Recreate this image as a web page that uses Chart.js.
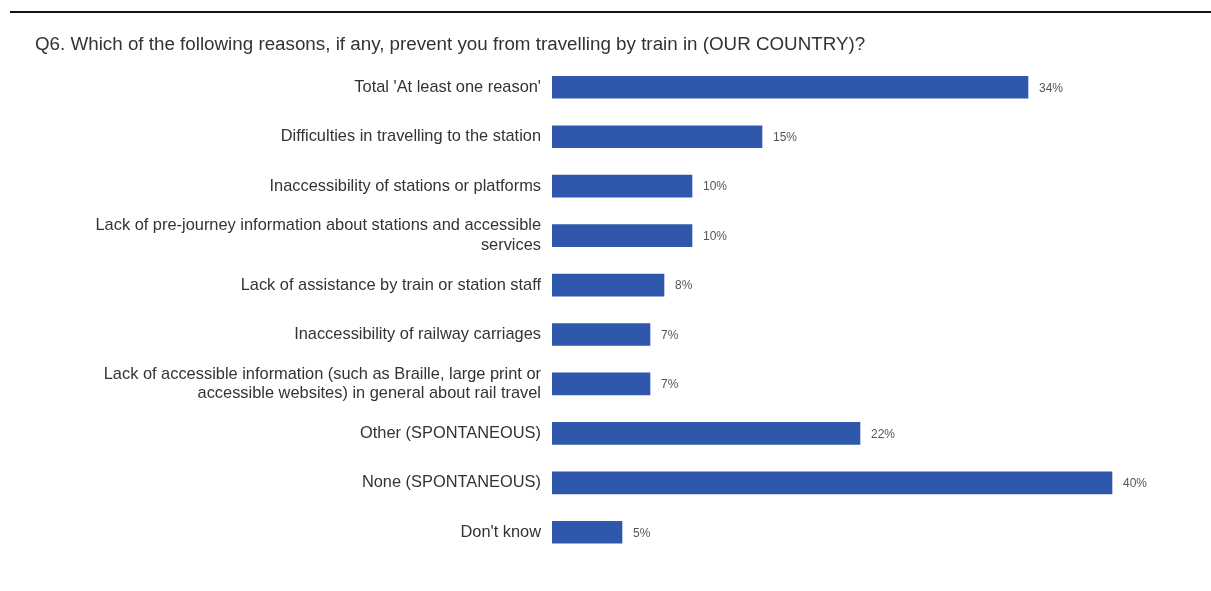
<!DOCTYPE html>
<html>
<head>
<meta charset="utf-8">
<script src="https://cdn.jsdelivr.net/npm/chart.js@4.4.0/dist/chart.umd.min.js"></script>
<style>
  body { margin: 0; background: #fff; }
  #rule { position: absolute; top: 11px; left: 10px; right: 0; height: 2px; background: #111; }
  #wrap { position: absolute; top: 0; left: 0; width: 1211px; height: 591px; }
</style>
</head>
<body>
<div id="rule"></div>
<div id="wrap"><canvas id="myChart"></canvas></div>
<script>
// categories and values
var reasons = [
  "Total 'At least one reason'",
  "Difficulties in travelling to the station",
  "Inaccessibility of stations or platforms",
  ["Lack of pre-journey information about stations and accessible", "services"],
  "Lack of assistance by train or station staff",
  "Inaccessibility of railway carriages",
  ["Lack of accessible information (such as Braille, large print or", "accessible websites) in general about rail travel"],
  "Other (SPONTANEOUS)",
  "None (SPONTANEOUS)",
  "Don't know"
];
var shares = [34, 15, 10, 10, 8, 7, 7, 22, 40, 5];

var titleText = "Q6. Which of the following reasons, if any, prevent you from travelling by train in (OUR COUNTRY)?";
var narrow = "'Liberation Sans Narrow', 'Arial Narrow', 'Liberation Sans', Arial, sans-serif";

// small labels at the end of each bar
const valueLabels = {
  id: 'valueLabels',
  afterDatasetsDraw(chart) {
    const ctx = chart.ctx;
    const meta = chart.getDatasetMeta(0);
    ctx.save();
    ctx.font = "12px " + narrow;
    ctx.fillStyle = '#555';
    ctx.textBaseline = 'middle';
    meta.data.forEach((bar, i) => {
      ctx.fillText(shares[i] + '%', bar.x + 11, bar.y + 1);
    });
    ctx.restore();
  }
};

var ctx = document.getElementById('myChart').getContext('2d');
var chart = new Chart(ctx, {
  type: 'bar',
  data: {
    labels: reasons,
    datasets: [{
      data: shares,
      backgroundColor: 'rgb(47, 88, 172)',
      barThickness: 22
    }]
  },
  options: {
    indexAxis: 'y',
    responsive: true,
    maintainAspectRatio: false,
    animation: false,
    layout: { padding: { left: 35, right: 29, top: 0, bottom: 34 } },
    plugins: {
      legend: { display: false },
      tooltip: { enabled: false },
      title: {
        display: true,
        text: titleText,
        align: 'start',
        color: '#333',
        font: { family: narrow, size: 18.8, weight: 'normal' },
        padding: { top: 34, bottom: 6 }
      }
    },
    scales: {
      x: {
        display: false,
        min: 0,
        max: 45
      },
      y: {
        grid: { display: false, drawTicks: false },
        border: { display: false },
        ticks: {
          color: '#333',
          padding: 11,
          font: { family: narrow, size: 16.4 },
          autoSkip: false
        },
        afterFit: function(scale) { scale.width = 517; }
      }
    }
  },
  plugins: [valueLabels]
});
</script>
</body>
</html>
